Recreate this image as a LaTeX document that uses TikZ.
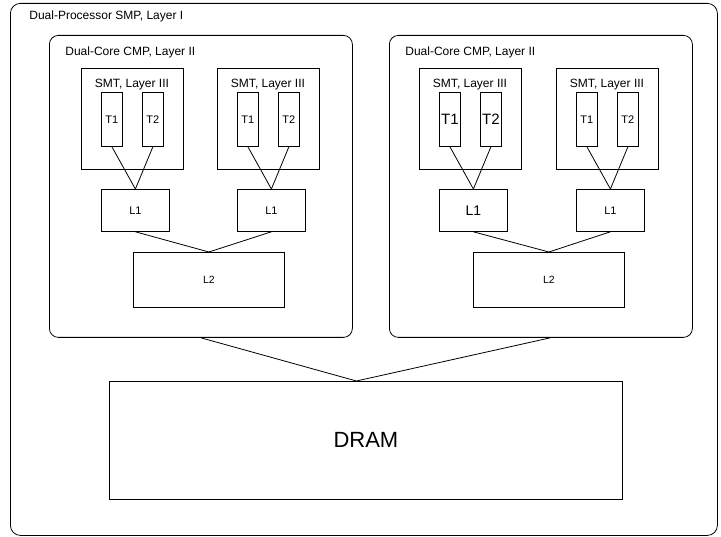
\documentclass[tikz,border=0pt]{standalone}
\usepackage{fontspec}
\setmainfont{Liberation Sans}
\usetikzlibrary{positioning}

\tikzset{
  box/.style={draw, inner sep=0pt, anchor=north west},
  layer/.style={draw, rounded corners=9pt, inner sep=0pt, anchor=north west},
  layertext/.style={inner sep=0pt, font=\fontsize{12}{14}\selectfont}
}

\begin{document}
\begin{tikzpicture}[x=1pt, y=-1pt, line width=0.8pt]
    \useasboundingbox (0,0) rectangle (721,537);

    % Layer I: the whole machine
    \node[layer, rounded corners=10pt, minimum width=707pt, minimum height=532pt] (smp) at (10,3) {};
    \node[layertext, anchor=base west] (smp-title) at (29,19.5) {Dual-Processor SMP, Layer I};

    % Layer II: two chips, each with a shared L2
    \foreach \c/\x in {A/49, B/389} {
        \node[layer, minimum width=303pt, minimum height=302pt] (cmp\c) at (\x,35) {};
        \node[layertext, anchor=base west] (cmp\c-title) at (\x+16,56) {Dual-Core CMP, Layer II};
        \node[box, minimum width=151pt, minimum height=55pt, font=\fontsize{10.5}{12}\selectfont] (l2\c) at (\x+84,252) {L2};
    }

    % Layer III: cores with two threads and a private L1
    \foreach \k/\x/\c/\tf/\lf in {A1/81/A/11/11, A2/217/A/11/11, B1/419/B/15/14, B2/556/B/11/11} {
        \node[box, minimum width=102pt, minimum height=101pt] (smt\k) at (\x,68) {};
        \node[layertext, anchor=base] (smt\k-title) at (\x+51,88) {SMT, Layer III};
        \node[box, minimum width=21pt, minimum height=54pt, font=\fontsize{\tf}{\tf}\selectfont] (t1-\k) at (\x+20,92) {T1};
        \node[box, minimum width=21pt, minimum height=54pt, font=\fontsize{\tf}{\tf}\selectfont] (t2-\k) at (\x+61,92) {T2};
        \node[box, minimum width=68pt, minimum height=42pt, font=\fontsize{\lf}{\lf}\selectfont] (l1-\k) at (\x+20,189) {L1};
        \draw (t1-\k.south) -- (l1-\k.north);
        \draw (t2-\k.south) -- (l1-\k.north);
        \draw (l1-\k.south) -- (l2\c.north);
    }

    % Main memory
    \node[box, minimum width=513pt, minimum height=118pt, font=\fontsize{22}{26}\selectfont] (dram) at (109,381) {DRAM};
    \coordinate (dram-in) at ([xshift=-9.5pt]dram.north);
    \draw (cmpA.south) -- (dram-in);
    \draw ([xshift=9.5pt]cmpB.south) -- (dram-in);
\end{tikzpicture}
\end{document}
